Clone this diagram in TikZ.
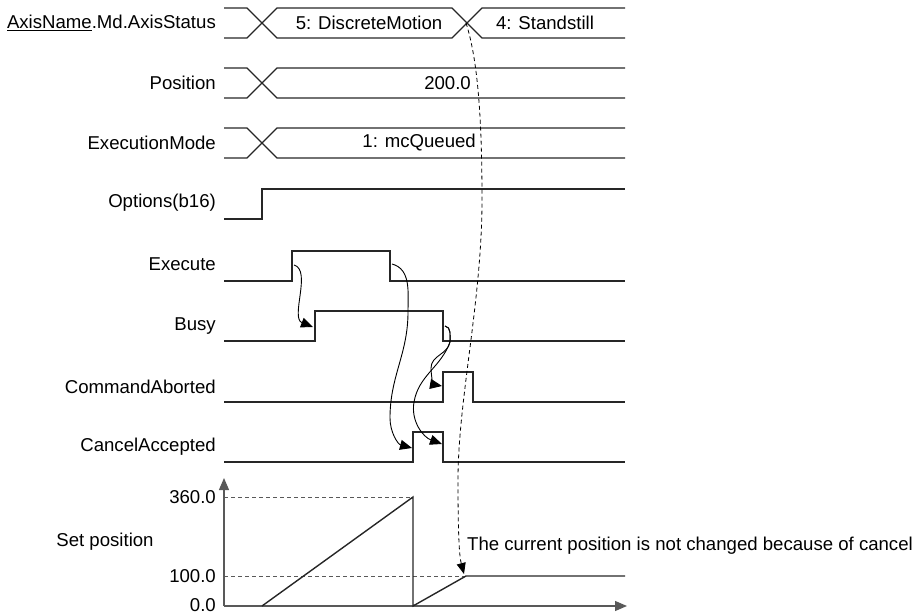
\documentclass[tikz,border=0pt]{standalone}
\usepackage{fontspec}
\setmainfont{Liberation Sans}
\usetikzlibrary{arrows.meta,positioning}

\definecolor{axisgray}{gray}{0.35}
\tikzset{
  sig/.style={line width=1.4pt,black!85},
  lbl/.style={anchor=east,inner sep=0pt,font=\fontsize{18.6}{22}\selectfont},
  val/.style={inner sep=0pt,font=\fontsize{18.6}{22}\selectfont},
  flow/.style={line width=0.9pt,-{Triangle[length=12pt,width=10pt]}},
  guide/.style={line width=0.8pt,axisgray,dash pattern=on 4pt off 3pt},
  axisline/.style={line width=1.2pt,axisgray,-{Triangle[length=12pt,width=10pt]}}
}

\begin{document}
\begin{tikzpicture}[x=1pt,y=-1pt]
\useasboundingbox (0,0) rectangle (914,615);

% signal names
\node[lbl] (lStatus) at (216,23) {\underline{AxisName}.Md.AxisStatus};
\node[lbl] (lPos) at (216,83) {Position};
\node[lbl] (lMode) at (216,143) {ExecutionMode};
\node[lbl] (lOpt) at (216,203) {Options(b16)};
\node[lbl] (lExe) at (216,264) {Execute};
\node[lbl] (lBusy) at (216,326) {Busy};
\node[lbl] (lAbort) at (216,387) {CommandAborted};
\node[lbl] (lCancel) at (216,447) {CancelAccepted};

% buses
\draw[sig] (224,8) -- (247,8) -- (277,38) -- (452,38) -- (482,8) -- (625,8);
\draw[sig] (224,38) -- (247,38) -- (277,8) -- (452,8) -- (482,38) -- (625,38);
\foreach \c in {83,143}{
  \draw[sig] (224,{\c-15}) -- (247,{\c-15}) -- (277,{\c+15}) -- (625,{\c+15});
  \draw[sig] (224,{\c+15}) -- (247,{\c+15}) -- (277,{\c-15}) -- (625,{\c-15});
}
\node[val] (vDiscrete) at (369,23) {5: DiscreteMotion};
\node[val] (vStand) at (545,23) {4: Standstill};
\node[val,anchor=east] (vPos) at (471,83) {200.0};
\node[val,anchor=east] (vMode) at (476,143) {1: mcQueued};

% bit signals
\draw[sig] (224,219) -- (262,219) -- (262,189) -- (625,189);
\draw[sig] (224,281) -- (292,281) -- (292,251) -- (390,251) -- (390,281) -- (625,281);
\draw[sig] (224,341) -- (315,341) -- (315,311) -- (443,311) -- (443,341) -- (625,341);
\draw[sig] (224,402) -- (443,402) -- (443,372) -- (473,372) -- (473,402) -- (625,402);
\draw[sig] (224,462) -- (413,462) -- (413,432) -- (443,432) -- (443,462) -- (625,462);

% edges used by the arrows
\coordinate (exeRise) at (294,265);
\coordinate (exeFall) at (392,264);
\coordinate (busyRise) at (313,327);
\coordinate (busyFall) at (445,326);
\coordinate (abortRise) at (442,386);
\coordinate (cancelRise) at (412,448);
\coordinate (cancelFall) at (442,444);
\coordinate (standStart) at (466,23);
\coordinate (holdPos) at (464,574);

\draw[flow] (exeRise) .. controls (312,270) and (290,318) .. (busyRise);
\draw[flow] (exeFall) to[out=-15,in=90] (408,312) to[out=-90,in=90] (390,418) to[out=-90,in=165] (cancelRise);
\draw[flow] (busyFall) to[out=-10,in=90] (450,342) to[out=-100,in=90] (431,368) to[out=-90,in=170] (abortRise);
\draw[flow] (busyFall) to[out=-10,in=90] (450,342) to[out=-110,in=80] (414,402) to[out=-100,in=160] (cancelFall);

% set position graph
\draw[axisline] (224,606) -- (224,478);
\draw[axisline] (224,606) -- (627,606);
\draw[guide] (224,497) -- (413,497);
\draw[guide] (224,576) -- (466,576);
\draw[sig] (262,606) -- (413,497) -- (413,606) -- (466,576) -- (625,576);
\node[lbl] (l360) at (216,497) {360.0};
\node[lbl] (l100) at (216,576) {100.0};
\node[lbl] (l0) at (216,605) {0.0};
\node[val] (lSet) at (105,542) {Set position};
\node[val,anchor=west] (note) at (467,546) {The current position is not changed because of cancel};

\draw[guide,-{Triangle[length=11pt,width=9pt]},black] (standStart) .. controls (478,60) and (482,120) .. (482,200)
  .. controls (482,300) and (458,400) .. (458,480) .. controls (458,530) and (459,555) .. (holdPos);
\end{tikzpicture}
\end{document}
